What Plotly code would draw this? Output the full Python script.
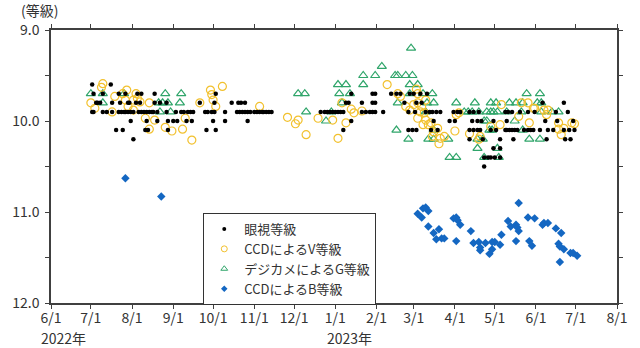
import plotly.graph_objects as go

# ---------------- data ----------------
# Visual estimates (眼視等級), grouped by magnitude (0.1 mag steps)
vis_96 = ["2022-07-02", "2022-07-16"]
vis_97 = ["2022-07-03", "2022-07-10", "2022-07-22", "2022-07-27", "2022-08-05", "2022-08-08",
          "2022-08-18", "2022-10-03", "2023-01-13", "2023-01-29", "2023-01-31", "2023-02-12",
          "2023-02-16", "2023-02-19", "2023-02-26", "2023-03-01", "2023-03-06", "2023-03-11"]
vis_98 = ["2022-07-05", "2022-07-06", "2022-07-08", "2022-07-17", "2022-07-23", "2022-07-29",
          "2022-07-30", "2022-08-04", "2022-08-07", "2022-08-18", "2022-08-22", "2022-08-27",
          "2022-09-21", "2022-10-02", "2022-10-15", "2022-10-20", "2022-10-22", "2022-10-25",
          "2023-01-09", "2023-01-11", "2023-01-21", "2023-01-29", "2023-01-31", "2023-02-22",
          "2023-03-03", "2023-03-07", "2023-06-06", "2023-06-22"]
vis_99 = ["2022-07-02", "2022-07-03", "2022-07-10", "2022-07-13", "2022-07-17", "2022-07-22",
          "2022-07-24", "2022-07-26", "2022-07-27", "2022-07-29", "2022-07-31", "2022-08-02",
          "2022-08-06", "2022-08-08", "2022-08-10", "2022-08-12", "2022-08-14", "2022-08-16",
          "2022-08-17", "2022-08-20", "2022-08-27", "2022-09-03", "2022-09-07", "2022-09-09",
          "2022-09-12", "2022-09-14", "2022-09-16", "2022-09-25", "2022-09-27", "2022-09-30",
          "2022-10-02", "2022-10-10", "2022-10-19", "2022-10-21", "2022-10-23", "2022-10-25",
          "2022-10-27", "2022-10-29", "2022-11-01", "2022-11-03", "2022-11-05", "2022-11-07",
          "2022-11-08", "2022-11-10", "2022-11-12", "2022-11-14", "2022-12-21", "2022-12-24",
          "2022-12-26", "2022-12-28", "2022-12-30", "2023-01-01", "2023-01-03", "2023-01-05",
          "2023-01-07", "2023-01-21", "2023-01-24", "2023-01-27", "2023-01-29", "2023-01-31",
          "2023-02-06", "2023-02-25", "2023-03-02", "2023-03-10", "2023-03-13", "2023-03-15",
          "2023-03-18", "2023-03-21", "2023-03-31", "2023-04-03", "2023-04-05", "2023-04-12",
          "2023-04-15", "2023-04-19", "2023-05-09", "2023-05-11", "2023-05-14", "2023-05-20",
          "2023-05-26", "2023-05-31", "2023-06-16", "2023-06-25"]
vis_100 = ["2022-07-31", "2022-08-12", "2022-08-20", "2022-08-28", "2022-09-01", "2022-09-04",
           "2022-09-11", "2022-09-15", "2022-10-01", "2022-10-10", "2022-10-27", "2023-01-13",
           "2023-03-16", "2023-03-28", "2023-04-01", "2023-04-14", "2023-04-18", "2023-04-21",
           "2023-04-30", "2023-05-10", "2023-06-08", "2023-06-17", "2023-06-29"]
vis_101 = ["2022-07-20", "2022-07-25", "2022-08-11", "2022-08-13", "2022-08-28", "2022-09-26",
           "2022-10-03", "2023-01-07", "2023-02-25", "2023-02-28", "2023-03-03", "2023-03-14",
           "2023-03-19", "2023-04-12", "2023-04-15", "2023-04-18", "2023-04-20", "2023-04-28",
           "2023-05-02", "2023-05-09", "2023-05-10", "2023-05-12", "2023-05-14", "2023-05-16",
           "2023-05-18", "2023-05-23", "2023-05-26", "2023-05-28", "2023-05-30", "2023-06-04",
           "2023-06-10", "2023-06-14", "2023-06-22", "2023-06-26", "2023-06-30"]
vis_102 = ["2022-08-02", "2023-04-12", "2023-04-22", "2023-05-05", "2023-05-15", "2023-06-09",
           "2023-06-23", "2023-06-27"]
vis_103 = ["2023-04-30", "2023-05-05"]
vis_104 = ["2023-04-23", "2023-04-26", "2023-04-28", "2023-05-01", "2023-05-05"]
vis_105 = ["2023-04-23"]

# CCD V magnitudes (CCDによるV等級)
v_dates = ["2022-07-01", "2022-07-04", "2022-07-10", "2022-07-09", "2022-07-17", "2022-07-19",
           "2022-07-25", "2022-07-28", "2022-07-27", "2022-07-29", "2022-08-02", "2022-08-04",
           "2022-08-05", "2022-08-07", "2022-08-02", "2022-08-11", "2022-08-14", "2022-08-14",
           "2022-08-18", "2022-08-26", "2022-08-31", "2022-09-08", "2022-09-10", "2022-09-15",
           "2022-09-21", "2022-09-29", "2022-09-30", "2022-10-01", "2022-10-03", "2022-10-08",
           "2022-11-05", "2022-11-26", "2022-12-02", "2022-12-04", "2022-12-10", "2022-12-19",
           "2022-12-30", "2023-01-03", "2023-01-09", "2023-01-06", "2023-01-13", "2023-01-15",
           "2023-01-21", "2023-02-09", "2023-02-17", "2023-02-19", "2023-03-03", "2023-03-04",
           "2023-02-23", "2023-02-26", "2023-03-01", "2023-03-04", "2023-03-07", "2023-03-10",
           "2023-03-09", "2023-03-04", "2023-03-06", "2023-03-10", "2023-03-12", "2023-03-14",
           "2023-03-08", "2023-03-16", "2023-03-19", "2023-03-15", "2023-03-21", "2023-03-24",
           "2023-03-20", "2023-04-02", "2023-04-04", "2023-04-01", "2023-04-12", "2023-04-20",
           "2023-04-19", "2023-04-28", "2023-05-06", "2023-05-05", "2023-05-19", "2023-05-21",
           "2023-05-26", "2023-05-27", "2023-05-30", "2023-05-31", "2023-06-07", "2023-06-09",
           "2023-06-10", "2023-06-18", "2023-06-18", "2023-06-20", "2023-06-22", "2023-06-28",
           "2023-06-30"]
v_mags = [9.80, 9.86, 9.59, 9.63, 9.90, 9.73,
          9.70, 9.66, 9.77, 9.84, 9.77, 9.70,
          9.75, 9.79, 9.88, 9.97, 9.80, 10.09,
          9.99, 10.07, 10.11, 10.09, 9.97, 10.21,
          9.80, 9.66, 9.71, 9.77, 9.84, 9.62,
          9.84, 9.96, 10.03, 9.99, 10.15, 9.97,
          9.99, 10.19, 10.02, 9.80, 9.87, 9.91,
          9.89, 9.60, 9.70, 9.73, 9.65, 9.70,
          9.84, 9.88, 9.82, 9.80, 9.84, 9.77,
          9.91, 9.97, 9.90, 9.99, 10.04, 10.02,
          10.04, 10.12, 10.08, 10.17, 10.19, 10.17,
          10.25, 9.93, 9.91, 10.11, 10.14, 10.17,
          10.20, 10.06, 9.82, 10.04, 9.95, 9.80,
          9.80, 10.02, 9.86, 9.86, 9.88, 9.93,
          9.88, 10.02, 10.09, 10.15, 10.08, 10.02,
          10.03]

# Digital camera G magnitudes (デジカメによるG等級)
g_dates = ["2022-07-01", "2022-07-10", "2022-07-10", "2022-07-26", "2022-08-21", "2022-08-24",
           "2022-08-28", "2022-08-22", "2022-08-26", "2022-08-30", "2022-09-07", "2022-09-06",
           "2022-12-04", "2022-12-09", "2022-12-10", "2022-12-25", "2022-12-29", "2023-01-03",
           "2023-01-09", "2023-01-04", "2023-01-12", "2023-01-06", "2023-01-22", "2023-01-31",
           "2023-01-22", "2023-02-05", "2023-02-15", "2023-02-17", "2023-02-16", "2023-02-17",
           "2023-02-23", "2023-02-28", "2023-02-27", "2023-02-26", "2023-03-04", "2023-02-26",
           "2023-03-08", "2023-03-15", "2023-02-25", "2023-03-11", "2023-03-16", "2023-03-10",
           "2023-03-12", "2023-03-16", "2023-03-16", "2023-03-27", "2023-03-28", "2023-04-02",
           "2023-04-02", "2023-04-08", "2023-04-11", "2023-04-14", "2023-04-19", "2023-04-16",
           "2023-04-18", "2023-04-18", "2023-04-23", "2023-04-23", "2023-04-25", "2023-04-28",
           "2023-04-27", "2023-04-22", "2023-04-28", "2023-05-02", "2023-04-30", "2023-05-03",
           "2023-04-25", "2023-04-29", "2023-05-03", "2023-05-04", "2023-05-10", "2023-05-12",
           "2023-05-17", "2023-05-22", "2023-05-16", "2023-05-21", "2023-05-22", "2023-05-25",
           "2023-05-27", "2023-06-04", "2023-06-02", "2023-06-05", "2023-06-05", "2023-06-04",
           "2023-06-13", "2023-06-18"]
g_mags = [9.7, 9.7, 9.8, 9.7, 9.8, 9.8,
          9.8, 9.9, 9.7, 9.9, 9.7, 9.8,
          9.7, 9.7, 9.9, 10.0, 9.9, 9.6,
          9.6, 9.7, 9.7, 9.8, 9.5, 9.5,
          9.6, 9.4, 9.5, 9.5, 10.1, 9.8,
          9.5, 9.5, 9.2, 9.6, 9.6, 9.7,
          9.7, 9.7, 10.2, 9.8, 9.8, 9.9,
          10.2, 10.1, 10.2, 10.2, 10.4, 10.4,
          9.8, 9.9, 9.9, 9.9, 9.9, 9.8,
          10.2, 10.3, 10.0, 10.4, 9.9, 9.9,
          10.1, 10.2, 9.8, 9.8, 9.9, 9.9,
          10.0, 10.1, 10.3, 10.4, 9.9, 9.8,
          9.8, 9.8, 10.0, 9.9, 10.1, 9.7,
          10.2, 9.7, 9.8, 9.8, 9.9, 10.2,
          9.9, 9.9]

# CCD B magnitudes (CCDによるB等級)
b_dates = ["2022-07-27", "2022-08-23", "2023-03-04", "2023-03-07", "2023-03-08", "2023-03-10",
           "2023-03-12", "2023-03-12", "2023-03-16", "2023-03-20", "2023-03-18", "2023-03-22",
           "2023-03-24", "2023-03-31", "2023-04-02", "2023-04-03", "2023-04-05", "2023-04-02",
           "2023-04-13", "2023-04-15", "2023-04-19", "2023-04-20", "2023-04-20", "2023-04-24",
           "2023-04-27", "2023-04-29", "2023-04-29", "2023-05-01", "2023-05-05", "2023-05-06",
           "2023-05-11", "2023-05-13", "2023-05-17", "2023-05-18", "2023-05-19", "2023-05-17",
           "2023-05-19", "2023-05-26", "2023-05-27", "2023-05-29", "2023-05-31", "2023-06-06",
           "2023-06-07", "2023-06-10", "2023-06-16", "2023-06-20", "2023-06-18", "2023-06-19",
           "2023-06-19", "2023-06-22", "2023-06-27", "2023-06-29", "2023-07-02"]
b_mags = [10.63, 10.83, 11.02, 11.06, 10.96, 10.95,
          10.99, 11.16, 11.23, 11.19, 11.30, 11.29,
          11.29, 11.07, 11.06, 11.09, 11.14, 11.32,
          11.21, 11.34, 11.33, 11.39, 11.42, 11.34,
          11.46, 11.41, 11.33, 11.33, 11.36, 11.25,
          11.10, 11.16, 11.14, 11.17, 11.21, 11.32,
          10.90, 11.06, 11.32, 11.37, 11.07, 11.14,
          11.12, 11.12, 11.18, 11.23, 11.35, 11.38,
          11.55, 11.41, 11.45, 11.45, 11.48]

# axis ticks
x_tick_dates = ["2022-06-01", "2022-07-01", "2022-08-01", "2022-09-01", "2022-10-01",
                "2022-11-01", "2022-12-01", "2023-01-01", "2023-02-01", "2023-03-01",
                "2023-04-01", "2023-05-01", "2023-06-01", "2023-07-01", "2023-08-01"]
x_tick_labels = ["6/1", "7/1", "8/1", "9/1", "10/1", "11/1", "12/1", "1/1", "2/1",
                 "3/1", "4/1", "5/1", "6/1", "7/1", "8/1"]
y_tick_vals = [9.0, 9.5, 10.0, 10.5, 11.0, 11.5, 12.0]
y_tick_labels = ["9.0", "", "10.0", "", "11.0", "", "12.0"]

series_names = ["眼視等級", "CCDによるV等級", "デジカメによるG等級", "CCDによるB等級"]
series_colors = ["#000000", "#F2C12E", "#2FA56A", "#1467C2"]
series_symbols = ["circle", "circle-open", "triangle-up-open", "diamond"]
series_linewidths = [0, 1.2, 1.2, 0]

# ---------------- figure ----------------
vis_groups = [(vis_96, 9.6), (vis_97, 9.7), (vis_98, 9.8), (vis_99, 9.9), (vis_100, 10.0),
              (vis_101, 10.1), (vis_102, 10.2), (vis_103, 10.3), (vis_104, 10.4), (vis_105, 10.5)]
vis_x, vis_y = [], []
for dates, mag in vis_groups:
    vis_x += dates
    vis_y += [mag] * len(dates)

FONT = "Noto Sans CJK JP"
fig = go.Figure()

# data traces (drawn order: G, V, visual, B)
plot_sizes = [4.5, 8, 8, 6.5]
for idx, (xs, ys) in [(2, (g_dates, g_mags)), (1, (v_dates, v_mags)),
                      (0, (vis_x, vis_y)), (3, (b_dates, b_mags))]:
    fig.add_trace(go.Scatter(
        x=xs, y=ys, mode="markers", name=series_names[idx], showlegend=False,
        marker=dict(symbol=series_symbols[idx], size=plot_sizes[idx],
                    color=series_colors[idx],
                    line=dict(width=series_linewidths[idx], color=series_colors[idx])),
    ))

# legend entries (small markers as in the original key)
legend_sizes = [4, 6, 6, 5]
for idx in range(4):
    fig.add_trace(go.Scatter(
        x=[None], y=[None], mode="markers", name=series_names[idx], showlegend=True,
        legendrank=idx + 1,
        marker=dict(symbol=series_symbols[idx], size=legend_sizes[idx],
                    color=series_colors[idx],
                    line=dict(width=min(series_linewidths[idx], 1), color=series_colors[idx])),
    ))

axis_common = dict(
    showline=True, linecolor="#404040", linewidth=1.5, mirror="ticks",
    ticks="outside", ticklen=4, tickwidth=1, tickcolor="#404040",
    showgrid=False, zeroline=False,
    tickfont=dict(family=FONT, size=14, color="#333333"),
)

fig.update_xaxes(
    type="date", range=["2022-06-01", "2023-08-01"],
    tickmode="array", tickvals=x_tick_dates, ticktext=x_tick_labels,
    ticklabelstandoff=-3,
    **axis_common,
)
fig.update_yaxes(
    range=[12.0, 9.0],
    tickmode="array", tickvals=y_tick_vals, ticktext=y_tick_labels,
    ticklabelstandoff=3,
    **axis_common,
)

fig.update_layout(
    width=640, height=348,
    margin=dict(l=35, r=14, t=30, b=45),
    paper_bgcolor="white", plot_bgcolor="white",
    font=dict(family=FONT, size=14, color="#333333"),
    showlegend=True,
    legend=dict(
        x=(194 - 35) / 591, y=(303 - 213) / 273, xanchor="left", yanchor="top",
        bgcolor="white", bordercolor="#333333", borderwidth=1,
        font=dict(family=FONT, size=13, color="#333333"),
        itemwidth=30,
    ),
    annotations=[
        dict(text="(等級)", xref="paper", yref="paper", x=(2 - 35) / 591, y=(303 - 10) / 273,
             xanchor="left", yanchor="middle", showarrow=False,
             font=dict(family=FONT, size=14, color="#333333")),
        dict(text="2022年", xref="paper", yref="paper", x=(22 - 35) / 591, y=(303 - 338) / 273,
             xanchor="left", yanchor="middle", showarrow=False,
             font=dict(family=FONT, size=14, color="#333333")),
        dict(text="2023年", xref="paper", yref="paper", x=(321 - 35) / 591, y=(303 - 338) / 273,
             xanchor="left", yanchor="middle", showarrow=False,
             font=dict(family=FONT, size=14, color="#333333")),
    ],
)

fig.write_html("out.html")
